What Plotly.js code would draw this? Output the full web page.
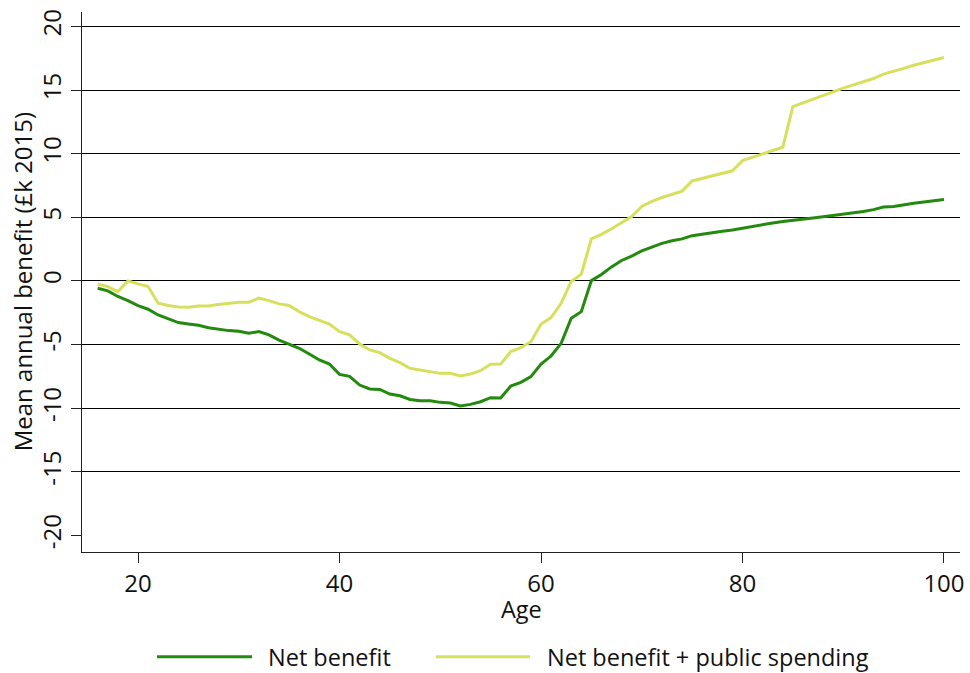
<!DOCTYPE html>
<html>
<head>
<meta charset="utf-8">
<script src="https://cdn.plot.ly/plotly-3.0.1.min.js"></script>
<style>html,body{margin:0;padding:0;background:#fff;}#chart{width:970px;height:673px;}</style>
</head>
<body>
<div id="chart"></div>
<script>
const ages = [16,17,18,19,20,21,22,23,24,25,26,27,28,29,30,31,32,33,34,35,36,37,38,39,40,41,42,43,44,45,46,47,48,49,50,51,52,53,54,55,56,57,58,59,60,61,62,63,64,65,66,67,68,69,70,71,72,73,74,75,76,77,78,79,80,81,82,83,84,85,86,87,88,89,90,91,92,93,94,95,96,97,98,99,100];

const netBenefit = [-0.58,-0.79,-1.23,-1.55,-1.94,-2.23,-2.68,-2.99,-3.28,-3.39,-3.49,-3.68,-3.81,-3.91,-3.96,-4.12,-3.99,-4.25,-4.65,-4.96,-5.3,-5.75,-6.22,-6.54,-7.35,-7.5,-8.19,-8.5,-8.53,-8.9,-9.03,-9.32,-9.42,-9.42,-9.55,-9.6,-9.84,-9.71,-9.5,-9.18,-9.21,-8.27,-7.98,-7.53,-6.54,-5.91,-4.91,-2.94,-2.42,0.02,0.5,1.1,1.6,1.95,2.35,2.65,2.95,3.15,3.3,3.55,3.68,3.78,3.9,4.0,4.15,4.3,4.43,4.55,4.67,4.75,4.82,4.94,5.04,5.14,5.24,5.33,5.45,5.6,5.8,5.85,6.0,6.1,6.2,6.3,6.4];

const netPlusPublic = [-0.26,-0.45,-0.84,0.0,-0.24,-0.45,-1.76,-1.94,-2.05,-2.07,-1.97,-1.97,-1.85,-1.75,-1.68,-1.68,-1.36,-1.55,-1.81,-1.94,-2.42,-2.81,-3.13,-3.39,-3.99,-4.25,-4.96,-5.43,-5.64,-6.09,-6.43,-6.87,-7.0,-7.14,-7.27,-7.27,-7.48,-7.32,-7.06,-6.56,-6.54,-5.56,-5.25,-4.78,-3.39,-2.89,-1.76,-0.05,0.53,3.3,3.65,4.1,4.6,5.05,5.85,6.25,6.55,6.8,7.05,7.85,8.05,8.25,8.45,8.65,9.45,9.7,9.95,10.2,10.5,13.7,14.0,14.3,14.6,14.9,15.15,15.4,15.65,15.9,16.25,16.45,16.7,16.95,17.15,17.35,17.55];

const seriesNames = ["Net benefit", "Net benefit + public spending"];
const seriesColors = ["#228a0c", "#d7e05c"];
const yTicks = [-20,-15,-10,-5,0,5,10,15,20];
const yGrid = [-15,-10,-5,0,5,10,15,20];
const xTicks = [20,40,60,80,100];
const xTitle = "Age";
const yTitle = "Mean annual benefit (£k 2015)";

const FONT = "Open Sans, Noto Sans, sans-serif";
const FS = 24;
const TXT = "#111";
const Y_RANGE = [-21.31, 21.13];

const traces = [
  {x: ages, y: netBenefit, name: seriesNames[0], type: "scatter", mode: "lines",
   line: {color: seriesColors[0], width: 3}, xaxis: "x", yaxis: "y"},
  {x: ages, y: netPlusPublic, name: seriesNames[1], type: "scatter", mode: "lines",
   line: {color: seriesColors[1], width: 3}, xaxis: "x", yaxis: "y2"}
];

// Custom legend (paper coordinates)
const legendY = -0.194;
const legendItems = [
  {x0: 0.0854, x1: 0.1936, tx: 0.2107},
  {x0: 0.4032, x1: 0.5103, tx: 0.5285}
];
const shapes = legendItems.map((it, i) => ({
  type: "line", xref: "paper", yref: "paper", x0: it.x0, x1: it.x1, y0: legendY, y1: legendY,
  line: {color: seriesColors[i], width: 3}
}));
const annotations = legendItems.map((it, i) => ({
  xref: "paper", yref: "paper", x: it.tx, y: legendY, xanchor: "left", yanchor: "middle",
  text: seriesNames[i], showarrow: false, borderpad: 0, font: {family: FONT, size: 23.5, color: TXT}
}));
annotations.push({xref: "paper", yref: "paper", x: 0.5, y: -0.106, xanchor: "center", yanchor: "middle",
  text: xTitle, showarrow: false, borderpad: 0, font: {family: FONT, size: 23.5, color: TXT}});
annotations.push({xref: "paper", yref: "paper", x: -0.068, y: 0.5, xanchor: "center", yanchor: "middle",
  textangle: -90, text: yTitle, showarrow: false, borderpad: 0, font: {family: FONT, size: FS, color: TXT}});

const layout = {
  width: 970, height: 673,
  margin: {l: 82, r: 10, t: 12, b: 121, autoexpand: false},
  paper_bgcolor: "#fff", plot_bgcolor: "#fff",
  font: {family: FONT, size: FS, color: TXT},
  showlegend: false,
  shapes: shapes,
  annotations: annotations,
  xaxis: {
    range: [14.44, 101.59], tickvals: xTicks, ticktext: xTicks.map(String),
    showgrid: false, zeroline: false, showline: true, linecolor: "#222", linewidth: 1,
    ticks: "outside", ticklen: 10, tickcolor: "#222", tickwidth: 1, automargin: false,
    tickfont: {family: FONT, size: FS, color: TXT}
  },
  yaxis: {
    range: Y_RANGE, tickvals: yTicks, ticktext: yTicks.map(String),
    showgrid: false, zeroline: false, automargin: false,
    showline: true, linecolor: "#222", linewidth: 1,
    ticks: "outside", ticklen: 10, tickcolor: "#222", tickwidth: 1, tickangle: -90,
    tickfont: {family: FONT, size: FS, color: TXT}
  },
  yaxis2: {
    range: Y_RANGE, overlaying: "y", anchor: "x", side: "left",
    tickvals: yGrid, showticklabels: false, ticks: "", showline: false,
    showgrid: true, gridcolor: "#000", gridwidth: 1, zeroline: false, automargin: false
  }
};

Plotly.newPlot("chart", traces, layout, {displayModeBar: false, staticPlot: true});
</script>
</body>
</html>
